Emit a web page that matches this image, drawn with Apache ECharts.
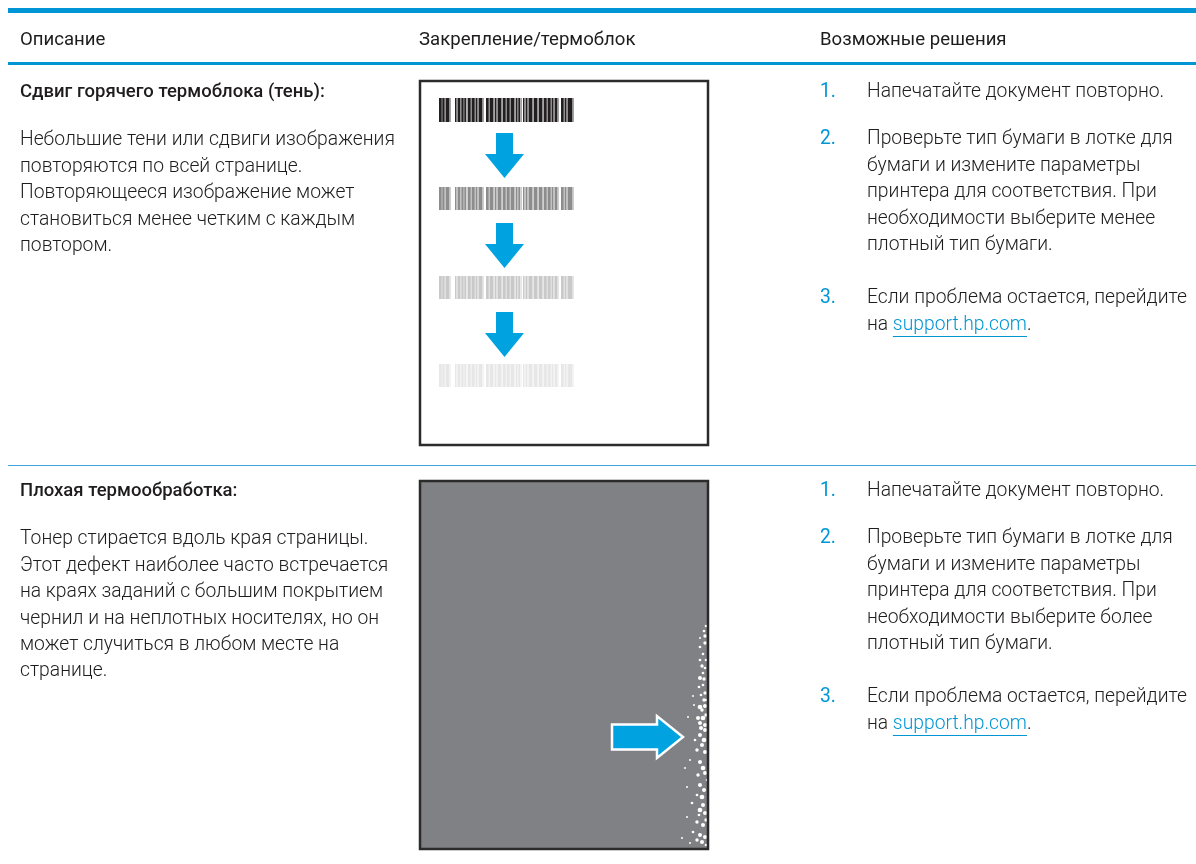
<!DOCTYPE html>
<html><head><meta charset="utf-8">
<script src="https://cdn.jsdelivr.net/npm/echarts@6/dist/echarts.min.js"></script>
<style>html,body{margin:0;padding:0;background:#fff}#c{width:1196px;height:864px}</style>
</head><body><div id="c"></div>
<script>
// ---------- content ----------
const headers = ['Описание', 'Закрепление/термоблок', 'Возможные решения'];
const rowTitles = ['Сдвиг горячего термоблока (тень):', 'Плохая термообработка:'];
const rowDescriptions = [
  ['Небольшие тени или сдвиги изображения', 'повторяются по всей странице.', 'Повторяющееся изображение может', 'становиться менее четким с каждым', 'повтором.'],
  ['Тонер стирается вдоль края страницы.', 'Этот дефект наиболее часто встречается', 'на краях заданий с большим покрытием', 'чернил и на неплотных носителях, но он', 'может случиться в любом месте на', 'странице.']
];
const stepNumbers = ['1.', '2.', '3.'];
const row1Steps = [
  ['Напечатайте документ повторно.'],
  ['Проверьте тип бумаги в лотке для', 'бумаги и измените параметры', 'принтера для соответствия. При', 'необходимости выберите менее', 'плотный тип бумаги.'],
  ['Если проблема остается, перейдите', 'на |support.hp.com|.']
];
const row2Steps = [
  ['Напечатайте документ повторно.'],
  ['Проверьте тип бумаги в лотке для', 'бумаги и измените параметры', 'принтера для соответствия. При', 'необходимости выберите более', 'плотный тип бумаги.'],
  ['Если проблема остается, перейдите', 'на |support.hp.com|.']
];
// barcode bars: [start, end] across the barcode (page units)
const barcodeBars = [
  [0,2.5],[3.5,5.5],[7,10],
  [16,17.5],[19,21],[22.5,24.5],[25.5,27],
  [29,31.5],[33,35.5],[37,38.5],[40,43],
  [47,49.5],[51,54],[56,57.5],[59,62],
  [64,66.5],[68,70.5],[72,75],[77,78.5],[79.5,81],
  [84,85.5],[87,88.5],[90,93],[95,98],
  [100,103],[105,107.5],[109,111.5],[113,114.5],[116,118],
  [122,124.5],[126,127.5],[129,133]
];
// repeated barcode prints: top, bottom (page-1 units), fading level index
const barcodePrints = [[18, 42, 0], [107, 130, 1], [196, 219, 2], [284, 307, 3]];
// down arrows between prints: [centerX, top]
const downArrows = [[85.5, 53], [85.5, 143], [85.5, 232]];
// right arrow on the grey page: [left, centerY]
const rightArrows = [[193, 257]];
// toner-off speckles on the grey page: [x, y, diameter]
const speckles = [
  [287,146,2],[285,151,2],[286,156,2.5],[281,158,1.5],[286,163,2.5],[281,167,2],[284,174,2],[281,180,2],
  [287,180,2],[283,186,2.5],[286,188,2],[284,193,2],[281,198,3],[285,199,2.5],[284,205,2],[280,207,2],
  [274,216,1.5],[282,215,2],[286,213,2.5],[285,220,2.5],[287,220,2],[281,227,3.5],[286,226,3],[275,225,1.5],
  [283,230,2.5],[269,237,1.5],[279,238,3],[284,238,3.5],[287,235,2.5],[281,243,3],[286,245,3],[282,248,3],
  [286,250,3],[281,255,3],[276,260,2],[285,260,3.5],[283,265,3],[278,270,2.5],[286,272,3],[271,280,1.5],
  [266,288,1.5],[281,282,3],[284,288,3.5],[279,295,2.5],[286,293,3],[288,300,2],[268,307,1.5],[281,305,3],
  [285,310,3],[278,315,2],[283,317,3.5],[273,323,2],[284,325,3],[281,330,3.5],[286,333,3],[280,335,2],
  [268,337,1.5],[287,340,2.5],[278,342,2.5],[284,345,3],[274,352,2],[281,355,3],[286,357,3],[263,358,1.5],
  [278,360,2.5],[283,362,3],[271,363,1.5],[287,365,2]
];

// ---------- layout & style ----------
const BLUE = '#0096d6', INK = '#1e1c1d', ARROW = '#00a3e0';
const FONT = 'Roboto';
const BODY = {size: 19.3, weight: 300};
const L = {
  col: [20, 419, 820], stepText: 867,
  headerY: 40, rowTitleY: [92, 491],
  descOffset: 48.5, lineH: 26.4,
  step2Offset: 47.5, step3Gap: 53.5,
  page1: {x: 419, y: 80, w: 290, h: 366},
  page2: {x: 419, y: 480, w: 290, h: 370}
};
const printShades = [['#231f20', '#8f8f8f'], ['#8d8d8d', '#c2c2c2'], ['#c9c9c9', '#e0e0e0'], ['#e7e7e7', '#f2f2f2']];

const chart = echarts.init(document.getElementById('c'), null, {renderer: 'canvas'});
const mctx = document.createElement('canvas').getContext('2d');
function measure(t, w, s) { mctx.font = w + ' ' + s + 'px ' + FONT; return mctx.measureText(t).width; }

const g = [];
function txt(t, x, y, o) {
  o = o || {};
  g.push({type: 'text', x: x, y: y, z: 50, style: {text: t, fill: o.fill || INK, fontSize: o.size || BODY.size,
    fontFamily: FONT, fontWeight: o.weight || BODY.weight, verticalAlign: 'middle', textVerticalAlign: 'middle', align: 'left'}});
}
// table rules
g.push({type: 'rect', shape: {x: 8, y: 8, width: 1188, height: 5}, style: {fill: BLUE}, z: 50});
g.push({type: 'rect', shape: {x: 8, y: 62, width: 1188, height: 3}, style: {fill: BLUE}, z: 50});
g.push({type: 'rect', shape: {x: 8, y: 465, width: 1188, height: 1}, style: {fill: '#3ea6dc'}, z: 50});
// headers
headers.forEach((h, i) => txt(h, L.col[i], L.headerY, {weight: 400, size: 18.6}));
// pages
const p1 = L.page1, p2 = L.page2;
g.push({type: 'rect', shape: {x: p1.x, y: p1.y, width: p1.w, height: p1.h}, style: {fill: '#fff'}, z: 0});
g.push({type: 'rect', shape: {x: p2.x, y: p2.y, width: p2.w, height: p2.h}, style: {fill: '#808184'}, z: 0});
[p1, p2].forEach(p => g.push({type: 'rect', shape: {x: p.x + 1, y: p.y + 1, width: p.w - 2, height: p.h - 2},
  style: {fill: null, stroke: '#2b2b2b', lineWidth: 2.5}, z: 60}));

// rows
const rowSteps = [row1Steps, row2Steps];
[0, 1].forEach(r => {
  const ty = L.rowTitleY[r];
  txt(rowTitles[r], L.col[0], ty, {weight: 500, size: 18.5});
  rowDescriptions[r].forEach((line, k) => txt(line, L.col[0], ty + L.descOffset + k * L.lineH));
  const steps = rowSteps[r];
  let sy = ty;
  steps.forEach((lines, s) => {
    if (s === 1) sy = ty + L.step2Offset;
    if (s === 2) sy = sy + (steps[1].length - 1) * L.lineH + L.step3Gap;
    txt(stepNumbers[s], L.col[2], sy, {fill: BLUE, weight: 400});
    lines.forEach((line, k) => {
      const y = sy + k * L.lineH;
      if (line.indexOf('|') >= 0) {
        const parts = line.split('|');
        let x = L.stepText;
        parts.forEach((pt, j) => {
          const isLink = j === 1;
          txt(pt, x, y, {fill: isLink ? BLUE : INK});
          const w = measure(pt, BODY.weight, BODY.size);
          if (isLink) g.push({type: 'rect', shape: {x: x, y: y + 11, width: w, height: 1}, style: {fill: BLUE}, z: 50});
          x += w;
        });
      } else txt(line, L.stepText, y);
    });
  });
});

// barcode series data
const barData = [];
barcodePrints.forEach((p, r) => barcodeBars.forEach(b => barData.push([b[0], b[1], p[0], p[1], p[2]])));
const BARX = 20;

function hiddenAxis(i, min, max, inverse) {
  return {gridIndex: i, type: 'value', min: min, max: max, inverse: !!inverse, show: false,
    splitLine: {show: false}, axisLine: {show: false}, axisTick: {show: false}, axisLabel: {show: false}};
}

chart.setOption({
  animation: false,
  backgroundColor: '#fff',
  grid: [
    {left: p1.x, top: p1.y, width: p1.w, height: p1.h},
    {left: p2.x, top: p2.y, width: p2.w, height: p2.h}
  ],
  xAxis: [hiddenAxis(0, 0, p1.w), hiddenAxis(1, 0, p2.w)],
  yAxis: [hiddenAxis(0, 0, p1.h, true), hiddenAxis(1, 0, p2.h, true)],
  graphic: {elements: g},
  series: [
    {
      type: 'custom', xAxisIndex: 0, yAxisIndex: 0, z: 5, silent: true,
      data: barData,
      renderItem: function (params, api) {
        const a = api.coord([BARX + api.value(0), api.value(2)]);
        const b = api.coord([BARX + api.value(1), api.value(3)]);
        const shade = printShades[api.value(4)];
        const w = b[0] - a[0], h = b[1] - a[1];
        return {type: 'group', children: [
          {type: 'rect', shape: {x: a[0] + 1.8, y: a[1], width: w, height: h}, style: {fill: shade[1]}},
          {type: 'rect', shape: {x: a[0], y: a[1], width: w, height: h}, style: {fill: shade[0]}}
        ]};
      }
    },
    {
      type: 'custom', xAxisIndex: 0, yAxisIndex: 0, z: 6, silent: true,
      data: downArrows,
      renderItem: function (params, api) {
        const c = api.coord([api.value(0), api.value(1)]);
        const x = c[0], y = c[1];
        return {type: 'polygon', shape: {points: [
          [x - 8.5, y], [x + 8.5, y], [x + 8.5, y + 21], [x + 19.5, y + 21], [x, y + 45],
          [x - 19.5, y + 21], [x - 8.5, y + 21]]}, style: {fill: ARROW}};
      }
    },
    {
      type: 'scatter', xAxisIndex: 1, yAxisIndex: 1, z: 5, silent: true,
      data: speckles,
      symbol: 'circle',
      symbolSize: function (v) { return v[2] * 1.35; },
      itemStyle: {color: '#ffffff', opacity: 1}
    },
    {
      type: 'custom', xAxisIndex: 1, yAxisIndex: 1, z: 6, silent: true,
      data: rightArrows,
      renderItem: function (params, api) {
        const c = api.coord([api.value(0), api.value(1)]);
        const x = c[0], y = c[1];
        return {type: 'polygon', shape: {points: [
          [x, y - 12.5], [x + 45, y - 12.5], [x + 45, y - 21], [x + 71, y], [x + 45, y + 21],
          [x + 45, y + 12.5], [x, y + 12.5]]}, style: {fill: ARROW, stroke: '#ffffff', lineWidth: 2.5, lineJoin: 'miter'}};
      }
    }
  ]
});
</script>
</body></html>
